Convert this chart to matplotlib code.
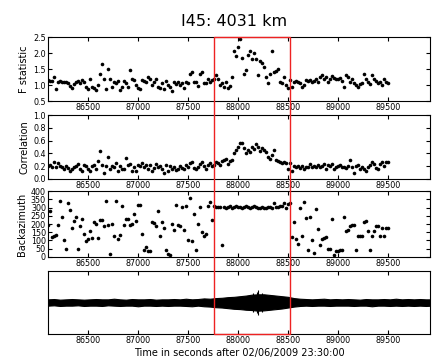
import numpy as np
import matplotlib
matplotlib.use('Agg')
import matplotlib.pyplot as plt
from matplotlib.patches import Rectangle
from matplotlib.transforms import blended_transform_factory

# detector output, one value every 20 s
times = np.arange(86100, 89501, 20)

fstat = [1.16, 1.12, 1.13, 1.25, 0.86, 1.10, 1.12, 1.10, 1.08, 1.10,
         1.06, 0.98, 0.90, 1.02, 1.08, 1.12, 1.06, 1.16, 1.10, 0.95,
         0.88, 1.20, 0.95, 0.90, 0.85, 1.00, 1.35, 1.65, 1.18, 0.88,
         1.50, 1.20, 0.95, 1.10, 1.05, 1.12, 0.85, 0.95, 1.12, 1.05,
         0.95, 1.47, 1.18, 1.15, 1.00, 0.90, 0.88, 1.15, 1.12, 1.10,
         1.25, 1.18, 1.00, 1.08, 1.20, 0.95, 0.90, 1.05, 0.88, 1.12,
         1.00, 0.95, 0.80, 1.08, 1.02, 1.10, 1.00, 1.05, 0.92, 1.10,
         1.05, 1.35, 1.40, 1.08, 1.10, 0.98, 1.35, 1.40, 1.05, 1.05,
         1.20, 1.10, 1.15, 1.20, 1.30, 1.20, 1.00, 1.05, 0.95, 1.08,
         0.90, 0.98, 1.25, 2.05, 1.90, 2.20, 2.45, 1.85, 1.35, 1.48,
         1.95, 2.05, 1.80, 2.00, 1.80, 1.30, 1.75, 1.70, 1.55, 1.25,
         1.05, 1.35, 2.05, 1.40, 1.45, 1.50, 1.10, 1.05, 1.25, 1.00,
         0.90, 1.15, 0.95, 1.10, 1.12, 1.08, 1.05, 0.95, 1.00, 1.15,
         1.12, 1.15, 1.10, 1.12, 1.20, 1.08, 1.25, 1.30, 1.20, 1.25,
         1.10, 1.20, 1.28, 1.22, 1.20, 1.18, 1.22, 1.12, 0.95, 1.30,
         1.25, 1.10, 1.20, 1.05, 1.00, 0.95, 1.02, 1.05, 1.35, 1.20,
         1.08, 1.02, 1.30, 1.18, 1.12, 1.05, 1.10, 1.00, 1.20, 1.10,
         1.05]

corr = [0.20, 0.22, 0.18, 0.27, 0.18, 0.25, 0.20, 0.18, 0.15, 0.20,
        0.17, 0.12, 0.16, 0.18, 0.20, 0.24, 0.15, 0.12, 0.22, 0.21,
        0.15, 0.13, 0.20, 0.22, 0.15, 0.28, 0.43, 0.22, 0.10, 0.20,
        0.35, 0.15, 0.20, 0.18, 0.25, 0.12, 0.20, 0.16, 0.15, 0.33,
        0.22, 0.24, 0.12, 0.18, 0.12, 0.22, 0.20, 0.25, 0.18, 0.22,
        0.15, 0.22, 0.12, 0.17, 0.23, 0.18, 0.20, 0.15, 0.10, 0.22,
        0.12, 0.20, 0.15, 0.18, 0.14, 0.15, 0.20, 0.17, 0.15, 0.22,
        0.18, 0.25, 0.26, 0.17, 0.15, 0.18, 0.24, 0.26, 0.20, 0.15,
        0.22, 0.25, 0.20, 0.22, 0.27, 0.25, 0.22, 0.28, 0.30, 0.31,
        0.24, 0.28, 0.30, 0.40, 0.45, 0.50, 0.56, 0.57, 0.48, 0.40,
        0.45, 0.42, 0.50, 0.47, 0.55, 0.50, 0.44, 0.48, 0.46, 0.42,
        0.35, 0.32, 0.38, 0.45, 0.30, 0.28, 0.27, 0.25, 0.26, 0.25,
        0.15, 0.25, 0.12, 0.20, 0.18, 0.21, 0.17, 0.20, 0.16, 0.19,
        0.18, 0.24, 0.18, 0.20, 0.19, 0.22, 0.18, 0.21, 0.24, 0.15,
        0.22, 0.20, 0.23, 0.16, 0.18, 0.20, 0.22, 0.19, 0.18, 0.17,
        0.21, 0.30, 0.18, 0.10, 0.21, 0.22, 0.16, 0.18, 0.15, 0.13,
        0.18, 0.22, 0.27, 0.24, 0.17, 0.15, 0.24, 0.26, 0.20, 0.27,
        0.26]

baz = [195, 280, 120, 125, 135, 195, 340, 245, 105, 50,
       325, 285, 175, 220, 240, 50, 190, 230, 140, 95,
       110, 155, 115, 210, 200, 115, 225, 225, 190, 340,
       195, 20, 200, 130, 340, 110, 135, 310, 195, 230,
       230, 195, 200, 260, 220, 315, 315, 140, 45, 60,
       35, 35, 210, 205, 185, 280, 125, 210, 175, 40,
       20, 10, 200, 165, 315, 195, 190, 305, 165, 310,
       100, 355, 95, 260, 40, 200, 305, 150, 130, 140,
       310, 335, 225, 310, 305, 305, 305, 70, 305, 300,
       305, 310, 300, 305, 310, 305, 305, 300, 305, 310,
       305, 300, 305, 310, 305, 300, 300, 305, 300, 300,
       305, 305, 300, 330, 305, 305, 310, 310, 330, 295,
       320, 325, 120, 210, 110, 80, 300, 130, 335, 235,
       40, 240, 100, 25, 290, 170, 75, 110, 115, 120,
       50, 50, 230, 10, 35, 35, 40, 40, 245, 160,
       165, 190, 195, 195, 40, 125, 125, 125, 210, 220,
       160, 40, 130, 160, 190, 190, 130, 175, 125, 175,
       175]

# waveform envelope, every 60 s
wave_t = np.arange(86100, 89941, 60)
wave_upper = [0.10, 0.11, 0.09, 0.10, 0.11, 0.10, 0.09, 0.10, 0.11, 0.10,
              0.10, 0.12, 0.10, 0.09, 0.11, 0.10, 0.10, 0.11, 0.09, 0.10,
              0.10, 0.11, 0.10, 0.12, 0.10, 0.11, 0.13, 0.12, 0.14, 0.15,
              0.17, 0.18, 0.20, 0.22, 0.25, 0.26, 0.26, 0.24, 0.22, 0.20,
              0.18, 0.14, 0.12, 0.11, 0.10, 0.11, 0.12, 0.10, 0.11, 0.10,
              0.11, 0.10, 0.09, 0.11, 0.10, 0.10, 0.11, 0.10, 0.12, 0.10,
              0.11, 0.10, 0.11, 0.10, 0.10]
wave_lower = [0.10, 0.09, 0.11, 0.10, 0.10, 0.09, 0.11, 0.10, 0.10, 0.11,
              0.09, 0.10, 0.11, 0.10, 0.10, 0.12, 0.10, 0.10, 0.11, 0.10,
              0.11, 0.10, 0.10, 0.11, 0.12, 0.10, 0.12, 0.13, 0.15, 0.16,
              0.18, 0.20, 0.21, 0.23, 0.24, 0.26, 0.25, 0.23, 0.21, 0.19,
              0.16, 0.13, 0.11, 0.10, 0.11, 0.10, 0.10, 0.11, 0.10, 0.10,
              0.10, 0.11, 0.10, 0.10, 0.12, 0.10, 0.10, 0.11, 0.10, 0.11,
              0.10, 0.11, 0.10, 0.11, 0.10]
spike_t = [88150, 88190, 88200, 88240]
spike_amp = [0.30, 0.34, 0.40, 0.30]

window = (87765, 88525)
xlim = (86100, 89920)
xticks = [86500, 87000, 87500, 88000, 88500, 89000, 89500]

plt.rcParams['font.family'] = 'DejaVu Sans'
plt.rcParams['xtick.direction'] = 'in'
plt.rcParams['ytick.direction'] = 'in'
plt.rcParams['xtick.top'] = True
plt.rcParams['ytick.right'] = True
plt.rcParams['xtick.labelsize'] = 5.8
plt.rcParams['ytick.labelsize'] = 5.8
plt.rcParams['xtick.major.size'] = 3
plt.rcParams['ytick.major.size'] = 3
plt.rcParams['xtick.major.pad'] = 1.5
plt.rcParams['ytick.major.pad'] = 1.5
plt.rcParams['axes.linewidth'] = 0.8

fig = plt.figure(figsize=(4.33, 3.61), dpi=100)
left, width = 0.1109, 0.882
ax1 = fig.add_axes([left, 0.7202, width, 0.1773])
ax2 = fig.add_axes([left, 0.5042, width, 0.1772])
ax3 = fig.add_axes([left, 0.2881, width, 0.1828])
ax4 = fig.add_axes([left, 0.0748, width, 0.1745])

dot = dict(marker='o', ms=2.6, ls='none', color='k', mec='none')

ax1.plot(times, fstat, **dot)
ax1.set_ylim(0.5, 2.5)
ax1.set_yticks([0.5, 1.0, 1.5, 2.0, 2.5])
ax1.set_ylabel('F statistic', fontsize=7, labelpad=3)

ax2.plot(times, corr, **dot)
ax2.set_ylim(0.0, 1.0)
ax2.set_yticks([0.0, 0.2, 0.4, 0.6, 0.8, 1.0])
ax2.set_ylabel('Correlation', fontsize=7, labelpad=3)

ax3.plot(times, baz, **dot)
ax3.set_ylim(0, 400)
ax3.set_yticks(range(0, 401, 50))
ax3.set_ylabel('Backazimuth', fontsize=7, labelpad=3)

ax4.fill_between(wave_t, -np.array(wave_lower), wave_upper,
                 color='k', lw=0.8)
ax4.vlines(spike_t, -np.array(spike_amp), spike_amp, color='k', lw=0.8)
ax4.set_ylim(-1, 1)
ax4.set_yticks([])
ax4.set_xlabel('Time in seconds after 02/06/2009 23:30:00',
               fontsize=7, labelpad=2)

for ax in (ax1, ax2, ax3, ax4):
    ax.set_xlim(*xlim)
    ax.set_xticks(xticks)
    ax.set_xticklabels([str(t) for t in xticks])

fig.text(0.54, 0.928, 'I45: 4031 km', fontsize=11.5, ha='center',
         va='baseline')

# detection window spanning all panels
trans = blended_transform_factory(ax1.transData, fig.transFigure)
y0 = ax4.get_position().y0
y1 = ax1.get_position().y1
fig.add_artist(Rectangle((window[0], y0), window[1] - window[0], y1 - y0,
                         transform=trans, fill=False, ec='#ee2222', lw=1.0,
                         zorder=10))

fig.savefig('out.png', dpi=100)
